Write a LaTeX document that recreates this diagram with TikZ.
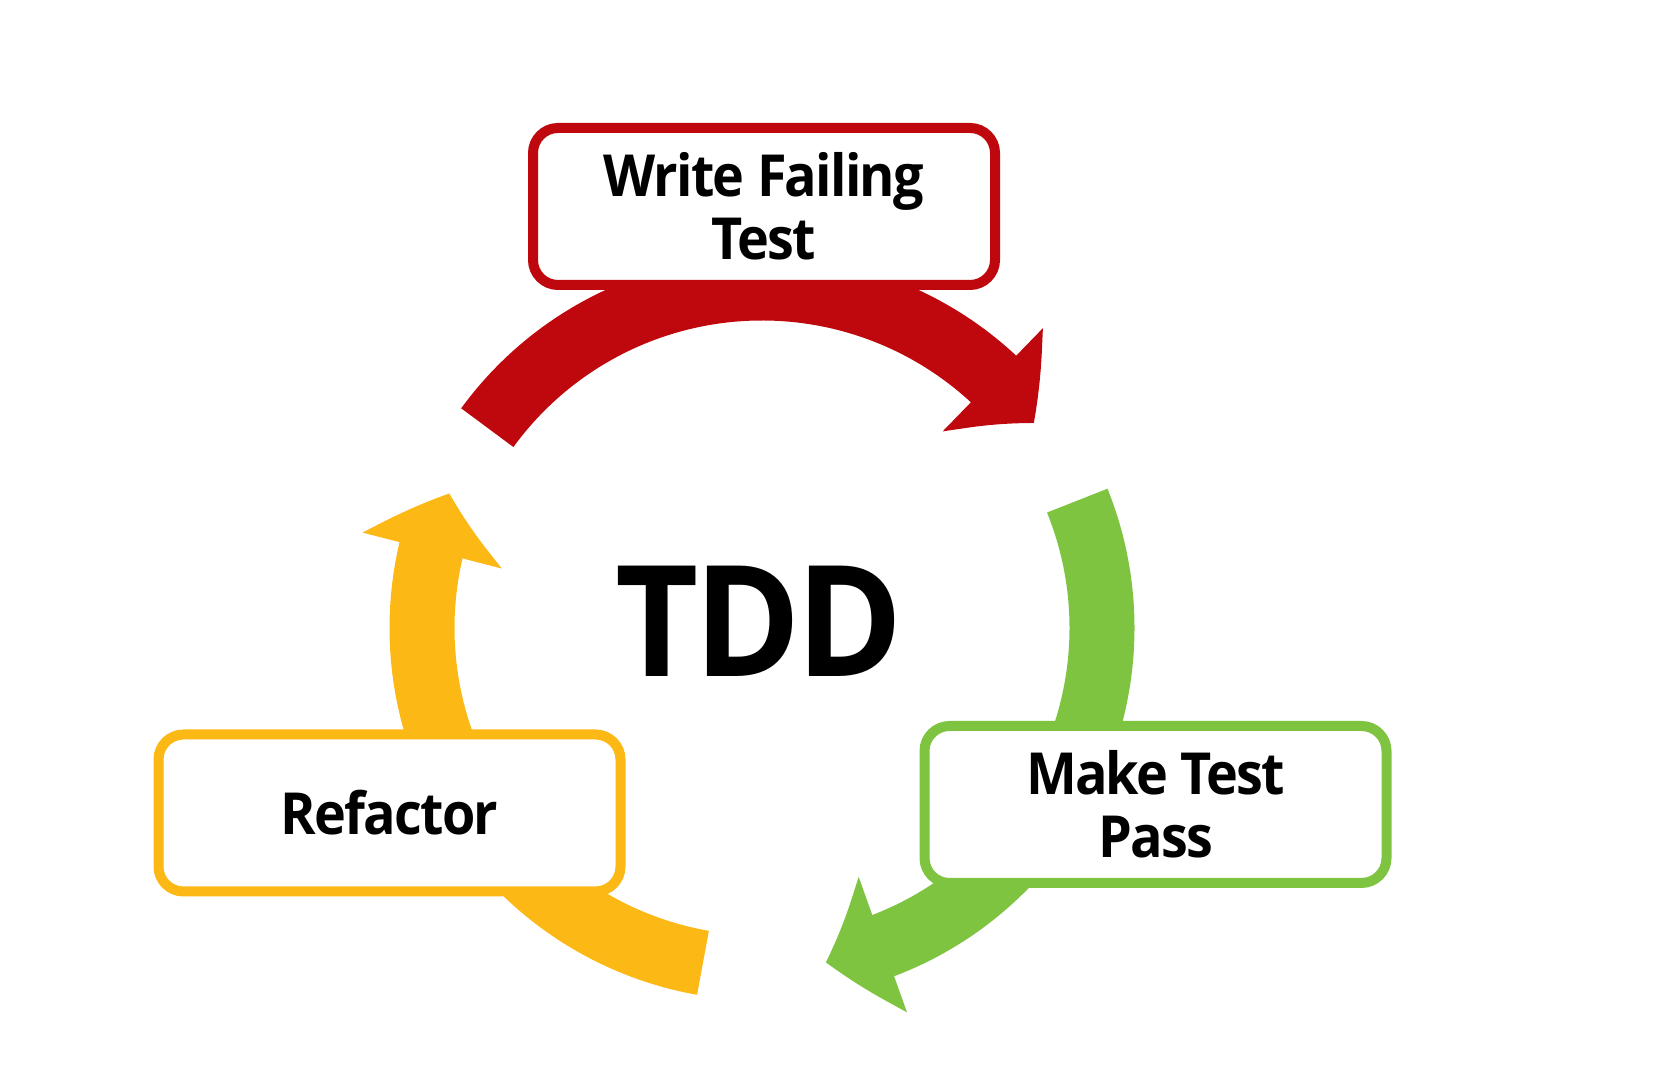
\documentclass[tikz,border=0pt]{standalone}
\usepackage{fontspec}
\usepackage{xcolor}
\usetikzlibrary{arrows.meta,bending}
\setmainfont{Open Sans}[FakeStretch=0.93,LetterSpace=-3]
\definecolor{failred}{RGB}{190,8,14}
\definecolor{passgreen}{RGB}{127,196,65}
\definecolor{refyellow}{RGB}{252,184,20}

\begin{document}
\begin{tikzpicture}[
  band/.style={line width=0.65cm, -{Triangle[length=0.6cm, width=1.4cm, bend]}},
  stepbox/.style={draw, line width=0.1cm, rounded corners=0.25cm, fill=white,
    minimum width=4.62cm, minimum height=1.57cm, align=center,
    font=\fontsize{16.5}{18}\selectfont\bfseries}]
  \useasboundingbox (0,0) rectangle (16.72,10.92);
  \coordinate (c) at (7.62,4.64);
  \draw[band, failred] (c) ++(143.9:3.4) arc[start angle=143.9, end angle=37, radius=3.4];
  \draw[band, passgreen] (c) ++(22:3.4) arc[start angle=22, end angle=-79.2, radius=3.4];
  \draw[band, refyellow] (c) ++(260:3.4) arc[start angle=260, end angle=156.7, radius=3.4];
  \node[stepbox, draw=failred] (write) at (7.64,8.855) {Write Failing\\Test};
  \node[stepbox, draw=passgreen] (pass) at (11.555,2.875) {Make Test\\Pass};
  \node[stepbox, draw=refyellow] (refactor) at (3.895,2.79) {Refactor};
  \node[font=\fontsize{44}{48}\selectfont\bfseries] (tdd) at (7.59,4.71) {TDD};
\end{tikzpicture}
\end{document}
